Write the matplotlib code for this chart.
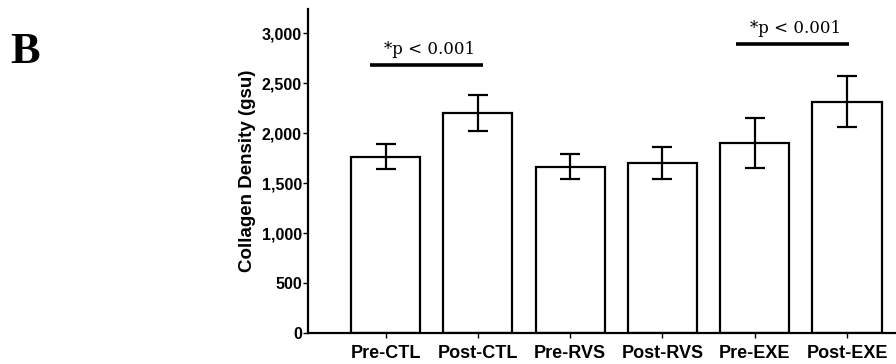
import matplotlib
matplotlib.use("Agg")
import matplotlib.pyplot as plt
from matplotlib.ticker import FuncFormatter

groups = ["Pre-CTL", "Post-CTL", "Pre-RVS", "Post-RVS", "Pre-EXE", "Post-EXE"]
means = [1765, 2200, 1665, 1700, 1900, 2313]
errors = [122, 178, 123, 158, 248, 256]

# significance brackets: (left, right, height, text)
sig_pairs = [(0, 1), (4, 5)]
sig_heights = [2677, 2893]
sig_label = "*p < 0.001"

W, H, DPI = 896, 364, 100
fig = plt.figure(figsize=(W / DPI, H / DPI), dpi=DPI)
ax = fig.add_axes([308 / W, 31 / H, (W - 308) / W, (333 - 9) / H])

sans = "Liberation Sans"
serif = "Liberation Serif"
lw = 1.6

x = list(range(len(groups)))
ax.bar(x, means, width=0.75, color="white", edgecolor="black", linewidth=lw, zorder=2)
ax.errorbar(x, means, yerr=errors, fmt="none", ecolor="black",
            elinewidth=lw, capsize=7.2, capthick=lw, zorder=3)

ax.set_xlim(-0.84, 5.53)
ax.set_ylim(0, 3240)
ax.set_yticks(range(0, 3001, 500))
ax.yaxis.set_major_formatter(FuncFormatter(lambda v, p: f"{int(v):,}"))
ax.set_xticks(x)
ax.set_xticklabels(groups, fontfamily=sans, fontweight="bold", fontsize=13)
for lab in ax.get_yticklabels():
    lab.set_fontfamily(sans)
    lab.set_fontweight("bold")
    lab.set_fontsize(11.5)
ax.tick_params(axis="both", direction="out", length=3.5, width=1.0, colors="black")
ax.tick_params(axis="x", pad=5)
ax.tick_params(axis="y", pad=1)

for s in ("top", "right"):
    ax.spines[s].set_visible(False)
for s in ("left", "bottom"):
    ax.spines[s].set_linewidth(lw)

ax.set_ylabel("Collagen Density (gsu)", fontfamily=sans, fontweight="bold", fontsize=13.5, labelpad=4)

offsets = [(-0.168, 0.054), (-0.20, 0.025)]
for (a, b), h, (ol, orr) in zip(sig_pairs, sig_heights, offsets):
    ax.plot([a + ol, b + orr], [h, h], color="black", linewidth=2.6,
            solid_capstyle="butt", clip_on=False, zorder=4)
    cx = (a + ol + b + orr) / 2 + 0.03
    ax.text(cx, h + 110, sig_label, ha="center", va="baseline",
            fontfamily="DejaVu Serif", fontsize=12, clip_on=False)

fig.text(10 / W, (H - 63) / H, "B", fontfamily=serif, fontweight="bold", fontsize=32,
         ha="left", va="baseline")

fig.savefig("out.png", dpi=DPI)
